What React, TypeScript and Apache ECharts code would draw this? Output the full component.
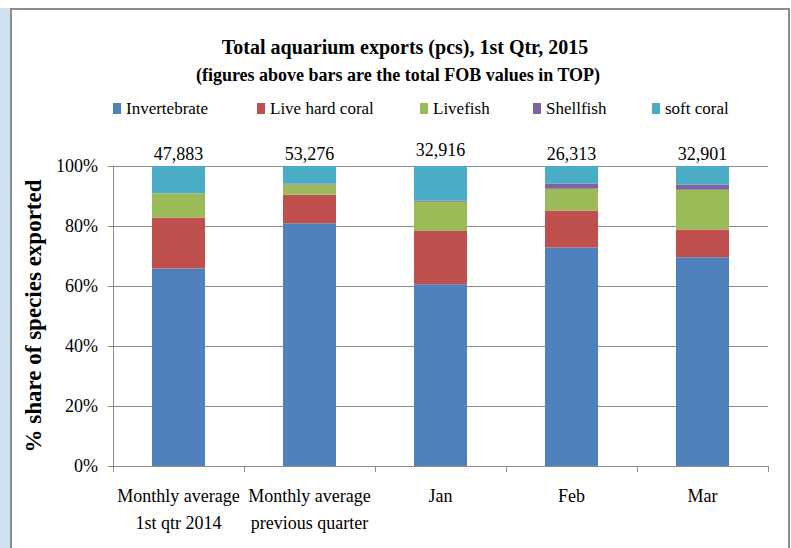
import React, { useEffect, useRef } from "react";
import * as echarts from "echarts";

const categories = [
  "Monthly average\n1st qtr 2014",
  "Monthly average\nprevious quarter",
  "Jan",
  "Feb",
  "Mar",
];
const seriesNames = ["Invertebrate", "Live hard coral", "Livefish", "Shellfish", "soft coral"];
const invertebrate = [65.8, 80.9, 60.6, 72.8, 69.6];
const liveHardCoral = [17.0, 9.5, 17.7, 12.4, 9.2];
const livefish = [8.1, 3.4, 9.8, 7.2, 13.3];
const shellfish = [0.0, 0.3, 0.3, 1.7, 1.7];
const softCoral = [9.1, 5.9, 11.6, 5.9, 6.2];
const totals = ["47,883", "53,276", "32,916", "26,313", "32,901"];
const yTicks = [0, 20, 40, 60, 80, 100];

const colors = ["#4F81BD", "#C0504D", "#9BBB59", "#8064A2", "#4BACC6"];
const FONT = "Liberation Serif";

export default function App() {
  const ref = useRef<HTMLDivElement>(null);
  useEffect(() => {
    if (!ref.current) return;
    const chart = echarts.init(ref.current, null, { renderer: "svg" });
    const values = [invertebrate, liveHardCoral, livefish, shellfish, softCoral];
    const legendLefts = [113, 257, 420, 533, 652];
    const series: any[] = seriesNames.map((name, i) => ({
      name,
      type: "bar",
      stack: "total",
      barWidth: 53,
      itemStyle: { color: colors[i] },
      data: values[i].map((v, j) => {
        if (i === 4) {
          return {
            value: v,
            label: {
              show: true,
              position: "top",
              distance: j === 2 ? 7 : 3,
              formatter: () => totals[j],
              fontFamily: FONT,
              fontSize: 18,
              color: "#000",
            },
          };
        }
        return v;
      }),
    }));
    chart.setOption({
      animation: false,
      backgroundColor: "#fff",
      textStyle: { fontFamily: FONT, color: "#000" },
      title: [
        {
          text: "Total aquarium exports (pcs), 1st Qtr, 2015",
          left: 400,
          textAlign: "center",
          top: 32,
          textStyle: { fontFamily: FONT, fontSize: 20, fontWeight: "bold", color: "#000" },
        },
        {
          text: "(figures above bars are the total FOB values in TOP)",
          left: 393,
          textAlign: "center",
          top: 61,
          textStyle: { fontFamily: FONT, fontSize: 18, fontWeight: "bold", color: "#000" },
        },
      ],
      legend: seriesNames.map((n, i) => ({
        data: [{ name: n, textStyle: { fontFamily: FONT, fontSize: 17, color: "#000" } }],
        left: legendLefts[i],
        top: 100,
        padding: 0,
        itemWidth: 8,
        itemHeight: 11,
        itemGap: 0,
        icon: "rect",
        selectedMode: false,
        textStyle: { fontFamily: FONT, fontSize: 17, color: "#000", padding: [0, 0, 0, 0] },
      })),
      grid: { left: 113, right: 23, top: 166, bottom: 82, containLabel: false },
      xAxis: {
        type: "category",
        data: categories,
        axisLine: { lineStyle: { color: "#8c8c8c" } },
        axisTick: { show: true, length: 6, lineStyle: { color: "#8c8c8c" } },
        axisLabel: {
          fontFamily: FONT,
          fontSize: 18,
          color: "#000",
          lineHeight: 27,
          margin: 16,
          interval: 0,
        },
      },
      yAxis: {
        type: "value",
        min: 0,
        max: 100,
        interval: 20,
        name: "% share of species exported",
        nameLocation: "middle",
        nameGap: 60,
        nameTextStyle: { fontFamily: FONT, fontSize: 23, fontWeight: "bold", color: "#000" },
        axisLine: { show: true, lineStyle: { color: "#8c8c8c" } },
        axisTick: { show: true, length: 5, lineStyle: { color: "#8c8c8c" } },
        splitLine: { lineStyle: { color: "#8c8c8c" } },
        axisLabel: {
          fontFamily: FONT,
          fontSize: 18,
          color: "#000",
          margin: 15,
          formatter: (v: number) => (yTicks.includes(v) ? v + "%" : ""),
        },
      },
      graphic: [
        { type: "rect", shape: { x: 0, y: 8, width: 10, height: 540 }, style: { fill: "#cfe1ec" }, silent: true },
        { type: "rect", shape: { x: 10, y: 8, width: 2, height: 540 }, style: { fill: "#8c8c8c" }, silent: true },
        { type: "rect", shape: { x: 10, y: 8, width: 780, height: 2 }, style: { fill: "#8c8c8c" }, silent: true },
        { type: "rect", shape: { x: 788, y: 8, width: 2, height: 540 }, style: { fill: "#8c8c8c" }, silent: true },
      ],
      series,
    });
    return () => chart.dispose();
  }, []);
  return (
    <div
      ref={ref}
      style={{ position: "absolute", left: 0, top: 0, width: 791, height: 548 }}
    />
  );
}
